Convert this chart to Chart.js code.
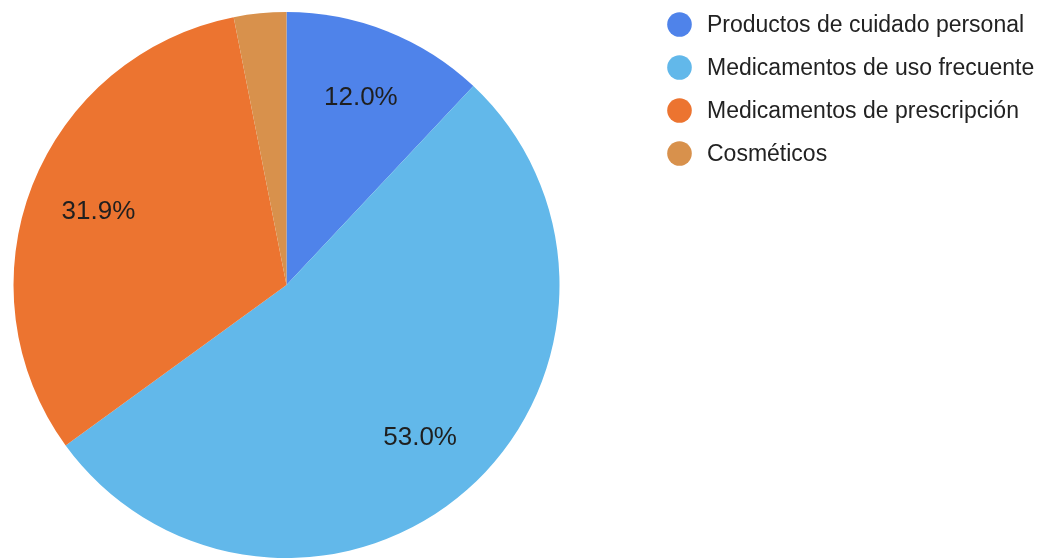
<!DOCTYPE html>
<html>
<head>
<meta charset="utf-8">
<script src="https://cdn.jsdelivr.net/npm/chart.js@4/dist/chart.umd.min.js"></script>
<style>
  html, body { margin: 0; padding: 0; background: #fff; overflow: hidden; }
  #wrap { position: relative; width: 1042px; height: 558px; overflow: hidden; }
  #wrap canvas { display: block; }
</style>
</head>
<body>
<div id="wrap"><canvas id="pie" width="1042" height="560"></canvas></div>
<script>
// Sales share by product category (percent)
const categories = [
  'Productos de cuidado personal',
  'Medicamentos de uso frecuente',
  'Medicamentos de prescripción',
  'Cosméticos'
];
const shares = [12.0, 53.0, 31.9, 3.1];
const sliceColors = ['#4F83EA', '#62B8EA', '#EC7430', '#D8914C'];
// slices at or below this share get no value label
const minLabelShare = 5;

const FONT = '"Liberation Sans", Arial, Helvetica, sans-serif';

// Percentage text placed inside each slice
const sliceLabels = {
  id: 'sliceLabels',
  afterDatasetsDraw(chart) {
    const ctx = chart.ctx;
    const meta = chart.getDatasetMeta(0);
    const values = chart.data.datasets[0].data;
    ctx.save();
    ctx.font = '26px ' + FONT;
    ctx.fillStyle = '#1f1f1f';
    ctx.textAlign = 'center';
    ctx.textBaseline = 'middle';
    meta.data.forEach((arc, i) => {
      if (values[i] <= minLabelShare) return;
      const p = arc.getProps(['x', 'y', 'startAngle', 'endAngle', 'outerRadius'], true);
      const mid = (p.startAngle + p.endAngle) / 2;
      const r = p.outerRadius * 0.74;
      ctx.fillText(values[i].toFixed(1) + '%', p.x + Math.cos(mid) * r, p.y + Math.sin(mid) * r + 1);
    });
    ctx.restore();
  }
};

// Legend with round markers to the right of the pie
const sideLegend = {
  id: 'sideLegend',
  afterDraw(chart) {
    const ctx = chart.ctx;
    const labels = chart.data.labels;
    const colors = chart.data.datasets[0].backgroundColor;
    const x0 = 679.5, y0 = 24.5, step = 43, dotR = 12.3;
    ctx.save();
    ctx.font = '23px ' + FONT;
    ctx.textBaseline = 'middle';
    ctx.textAlign = 'left';
    labels.forEach((txt, i) => {
      const y = y0 + i * step;
      ctx.beginPath();
      ctx.arc(x0, y, dotR, 0, Math.PI * 2);
      ctx.fillStyle = colors[i];
      ctx.fill();
      ctx.fillStyle = '#222222';
      ctx.fillText(txt, 707, y + 1);
    });
    ctx.restore();
  }
};

new Chart(document.getElementById('pie'), {
  type: 'pie',
  data: {
    labels: categories,
    datasets: [{
      data: shares,
      backgroundColor: sliceColors,
      borderWidth: 0
    }]
  },
  options: {
    responsive: false,
    animation: false,
    layout: { padding: { left: 13, top: 12, right: 482, bottom: 2 } },
    plugins: {
      legend: { display: false },
      tooltip: { enabled: false }
    }
  },
  plugins: [sliceLabels, sideLegend]
});
</script>
</body>
</html>
